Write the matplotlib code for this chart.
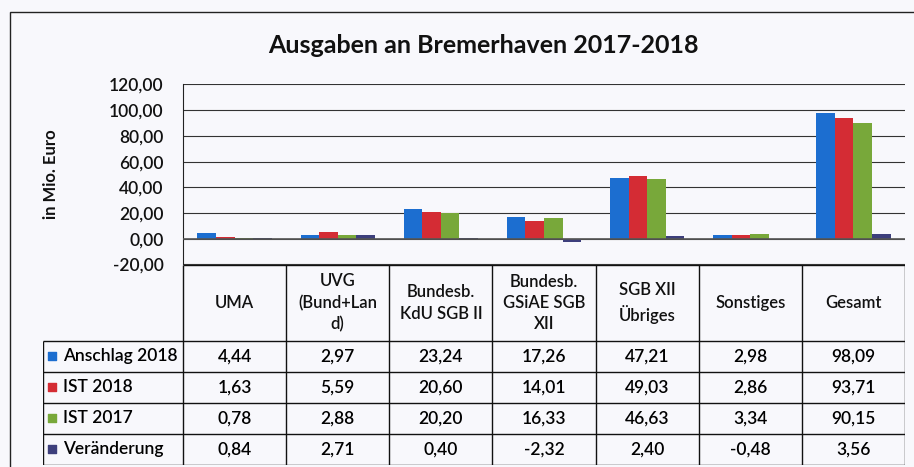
import matplotlib.pyplot as plt
from matplotlib.patches import Rectangle

categories = ["UMA", "UVG\n(Bund+Lan\nd)", "Bundesb.\nKdU SGB II", "Bundesb.\nGSiAE SGB\nXII",
              "SGB XII\nÜbriges", "Sonstiges", "Gesamt"]
series_names = ["Anschlag 2018", "IST 2018", "IST 2017", "Veränderung"]
anschlag_2018 = [4.44, 2.97, 23.24, 17.26, 47.21, 2.98, 98.09]
ist_2018 = [1.63, 5.59, 20.60, 14.01, 49.03, 2.86, 93.71]
ist_2017 = [0.78, 2.88, 20.20, 16.33, 46.63, 3.34, 90.15]
veraenderung = [0.84, 2.71, 0.40, -2.32, 2.40, -0.48, 3.56]
yticks = [-20, 0, 20, 40, 60, 80, 100, 120]

series = [anschlag_2018, ist_2018, ist_2017, veraenderung]
colors = ["#1c6ed0", "#d42c34", "#78a83a", "#3d3f7c"]
bg = "#f8f8fc"
font = "Lato"

def de(v):
    return f"{v:.2f}".replace(".", ",")

fig = plt.figure(figsize=(9.14, 4.67), dpi=100, facecolor=bg)
plt.rcParams['font.family'] = [font, 'DejaVu Sans']

# outer chart border (top + left visible in the scan)
fig.add_artist(Rectangle((10 / 914, -0.1), 1.2, 1 - 12 / 467 + 0.1, transform=fig.transFigure,
                         fill=False, edgecolor="#222222", linewidth=1.0))

fig.text(483 / 914, 1 - 45 / 467, "Ausgaben an Bremerhaven 2017-2018", ha="center", va="center",
         fontsize=18, fontweight="bold", color="#111111")

# bar chart
ax = fig.add_axes([183 / 914, 1 - 264.5 / 467, 722 / 914, 180 / 467])
ax.set_facecolor(bg)
n = len(categories)
w = 0.18
for i, (vals, col) in enumerate(zip(series, colors)):
    xs = [c + (i - 1.5) * w for c in range(n)]
    ax.bar(xs, vals, width=w, color=col, zorder=3)
ax.set_xlim(-0.5, n - 0.5)
ax.set_ylim(-20, 120)
ax.set_yticks(yticks)
ax.set_yticklabels([de(t) for t in yticks], fontsize=12.5, color="#111111", fontweight="semibold")
ax.tick_params(axis="y", length=0, pad=14)
ax.set_xticks([])
ax.grid(axis="y", color="#333333", linewidth=0.8, zorder=0)
ax.axhline(0, color="#555555", linewidth=1.2, zorder=4)
for s in ["top", "right", "bottom"]:
    ax.spines[s].set_visible(False)
ax.spines["left"].set_color("#222222")
ax.set_ylabel("in Mio. Euro", fontsize=12, fontweight="bold", color="#111111", labelpad=36)

# data table below, sharing category positions
label_w = 140 / (722 / n)
tx0 = -0.5 - label_w
tax = fig.add_axes([43 / 914, 1 - 465 / 467, 862 / 914, 200 / 467])
tax.set_xlim(tx0, n - 0.5)
hh = 2.45
tax.set_ylim(hh + len(series), 0)
tax.axis("off")
lk = dict(color="#111111", linewidth=1.0)
tax.hlines(0, -0.5, n - 0.5, **lk)
for r in range(len(series) + 1):
    tax.hlines(hh + r, tx0, n - 0.5, **lk)
for c in range(n + 1):
    tax.vlines(c - 0.5, 0, hh + len(series), **lk)
tax.vlines(tx0, hh, hh + len(series), **lk)
for c, name in enumerate(categories):
    tax.text(c, hh / 2, name, ha="center", va="center", fontsize=12, color="#111111",
             linespacing=1.4, fontweight="semibold")
for r, (name, vals, col) in enumerate(zip(series_names, series, colors)):
    y = hh + r + 0.5
    tax.scatter([tx0 + 0.09], [y], marker="s", s=28, color=col, clip_on=False)
    tax.text(tx0 + 0.19, y, name, ha="left", va="center", fontsize=12.5, color="#000000",
             fontweight="semibold")
    for c, v in enumerate(vals):
        tax.text(c, y, de(v), ha="center", va="center", fontsize=12.5, color="#000000",
                 fontweight="semibold")

fig.savefig("out.png", dpi=100, facecolor=bg)
